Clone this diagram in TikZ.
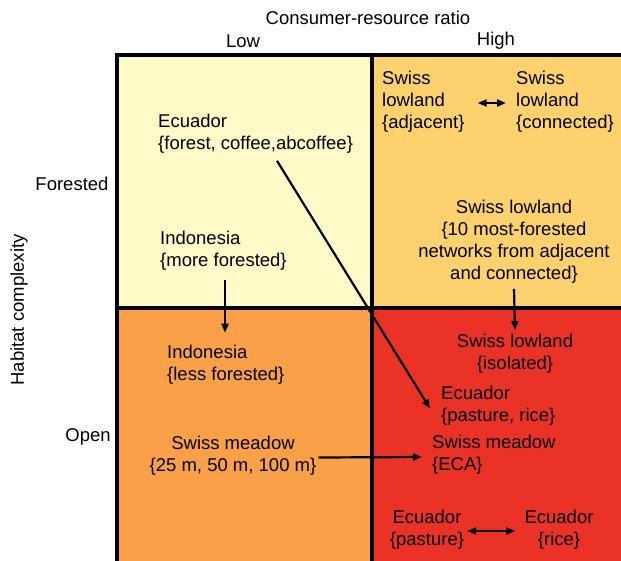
\documentclass[tikz,border=0pt]{standalone}
\usepackage{fontspec}
\setmainfont{Liberation Sans}
\usetikzlibrary{arrows.meta, positioning}

\definecolor{forestLow}{RGB}{255,250,200}
\definecolor{forestHigh}{RGB}{253,210,110}
\definecolor{openLow}{RGB}{250,160,72}
\definecolor{openHigh}{RGB}{234,50,38}

\begin{document}
\begin{tikzpicture}[x=1pt, y=-1pt,
    lbl/.style={font=\fontsize{18.5}{22}\selectfont, inner sep=0pt},
    txt/.style={lbl, align=left, anchor=west},
    ctxt/.style={lbl, align=center},
    arr/.style={line width=2.2pt, -{Triangle[length=9pt, width=7pt]}},
    darr/.style={line width=2.2pt, {Triangle[length=9pt, width=7pt]}-{Triangle[length=9pt, width=7pt]}},
    frame/.style={line width=3.5pt}]
\useasboundingbox (0,0) rectangle (621,560);
\clip (0,0) rectangle (621,560);

% quadrants
\fill[forestLow] (117,55) rectangle (372,308);
\fill[forestHigh] (372,55) rectangle (630,308);
\fill[openLow] (117,308) rectangle (372,570);
\fill[openHigh] (372,308) rectangle (630,570);
\draw[frame] (117,570) -- (117,55) -- (630,55);
\draw[frame] (372,55) -- (372,570);
\draw[frame] (117,308) -- (630,308);

% axis labels
\node[lbl] (axisX) at (368,18) {Consumer-resource ratio};
\node[lbl] (low) at (243,41) {Low};
\node[lbl] (high) at (496,41) {High};
\node[lbl, rotate=90] (axisY) at (19,310) {Habitat complexity};
\node[lbl] (forested) at (72,184) {Forested};
\node[lbl] (open) at (88,437) {Open};

% low / forested
\node[txt] (ecForest) at (158,134) {Ecuador\\\{forest, coffee,abcoffee\}};
\node[txt] (indMore) at (160,251) {Indonesia\\\{more forested\}};

% high / forested
\node[txt] (swAdj) at (382,102) {Swiss\\lowland\\\{adjacent\}};
\node[txt] (swCon) at (516,102) {Swiss\\lowland\\\{connected\}};
\node[ctxt] (swTen) at (514,242) {Swiss lowland\\\{10 most-forested\\networks from adjacent\\and connected\}};

% low / open
\node[txt] (indLess) at (167,364.5) {Indonesia\\\{less forested\}};
\node[ctxt] (swMeadow) at (233,455.5) {Swiss meadow\\\{25 m, 50 m, 100 m\}};

% high / open
\node[ctxt] (swIso) at (515,354) {Swiss lowland\\\{isolated\}};
\node[txt] (ecPR) at (441,405.5) {Ecuador\\\{pasture, rice\}};
\node[txt] (swECA) at (432,455) {Swiss meadow\\\{ECA\}};
\node[ctxt] (ecPast) at (427,530) {Ecuador\\\{pasture\}};
\node[ctxt] (ecRice) at (559,530) {Ecuador\\\{rice\}};

% connectors
\draw[darr] ([xshift=13pt, yshift=-1pt]swAdj.east) -- ([xshift=-10pt, yshift=-1pt]swCon.west);
\draw[darr] ([xshift=3pt, yshift=-1pt]ecPast.east) -- ([xshift=-9pt, yshift=-1pt]ecRice.west);
\draw[arr] ([xshift=119pt, yshift=-7pt]ecForest.south west) -- ([xshift=-11pt, yshift=-3pt]ecPR.west);
\draw[arr] ([xshift=65pt, yshift=-9pt]indMore.south west) -- ([xshift=58pt, yshift=12pt]indLess.north west);
\draw[arr] ([yshift=-5pt]swTen.south) -- ([yshift=4pt]swIso.north);
\draw[arr] ([xshift=2pt, yshift=-2pt]swMeadow.east) -- ([xshift=-10pt, yshift=-2pt]swECA.west);
\end{tikzpicture}
\end{document}
